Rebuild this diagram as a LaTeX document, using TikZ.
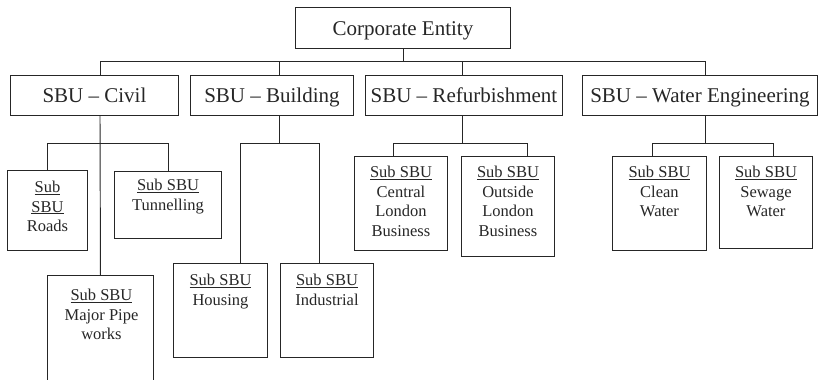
\documentclass[tikz,border=0pt]{standalone}
\usepackage{fontspec}
\setmainfont{Liberation Serif}
\usetikzlibrary{calc}
\definecolor{ink}{HTML}{262626}
\begin{document}
\begin{tikzpicture}[x=1pt,y=-1pt,
  line width=0.95pt, draw=ink,
  lvlbox/.style={draw=ink, line width=0.95pt, anchor=north west, inner sep=0pt,
    text=ink, font=\fontsize{21}{24}\selectfont, text height=16.8pt, text depth=2.7pt},
  subbox/.style={draw=ink, line width=0.95pt, anchor=north west, inner sep=0pt},
  subtxt/.style={anchor=north, inner sep=0pt, align=center, text=ink,
    font=\fontsize{16.5}{19.5}\selectfont},
  link/.style={draw=ink, line width=0.95pt}]
\useasboundingbox (0,0) rectangle (819,380);

% top level and business units
\node[lvlbox, minimum width=215pt, minimum height=41pt] (corp) at (295,7) {Corporate Entity};
\node[lvlbox, minimum width=168pt, minimum height=40pt] (civ) at (10,75) {SBU -- Civil};
\node[lvlbox, minimum width=163pt, minimum height=40pt] (bld) at (190,75) {SBU -- Building};
\node[lvlbox, minimum width=197pt, minimum height=40pt] (ref) at (365,75) {SBU -- Refurbishment};
\node[lvlbox, minimum width=235pt, minimum height=40pt] (wat) at (582,75) {SBU -- Water Engineering};

% sub business units (frames)
\node[subbox, minimum width=80pt, minimum height=80pt] (roads) at (7,170) {};
\node[subbox, minimum width=107pt, minimum height=67pt] (tun) at (114,171) {};
\node[subbox, minimum width=106pt, minimum height=130pt] (pipe) at (47,275) {};
\node[subbox, minimum width=94pt, minimum height=94pt] (hou) at (173,263) {};
\node[subbox, minimum width=93pt, minimum height=94pt] (ind) at (280,263) {};
\node[subbox, minimum width=93pt, minimum height=94pt] (cen) at (354,156) {};
\node[subbox, minimum width=93pt, minimum height=100pt] (out) at (461,156) {};
\node[subbox, minimum width=94pt, minimum height=94pt] (cln) at (612,156) {};
\node[subbox, minimum width=93pt, minimum height=92pt] (sew) at (719,156) {};

% sub business unit labels (offset = top of first line below frame top)
\node[subtxt] (roadsT) at ($(roads.north)+(0,10.7)$) {\underline{Sub}\\\underline{SBU}\\Roads};
\node[subtxt] (tunT) at ($(tun.north)+(0,7.7)$) {\underline{Sub SBU}\\Tunnelling};
\node[subtxt] (pipeT) at ($(pipe.north)+(1,13.7)$) {\underline{Sub SBU}\\Major Pipe\\works};
\node[subtxt] (houT) at ($(hou.north)+(0,10.7)$) {\underline{Sub SBU}\\Housing};
\node[subtxt] (indT) at ($(ind.north)+(0,10.7)$) {\underline{Sub SBU}\\Industrial};
\node[subtxt] (cenT) at ($(cen.north)+(0,9.7)$) {\underline{Sub SBU}\\Central\\London\\Business};
\node[subtxt] (outT) at ($(out.north)+(0,9.7)$) {\underline{Sub SBU}\\Outside\\London\\Business};
\node[subtxt] (clnT) at ($(cln.north)+(0,9.7)$) {\underline{Sub SBU}\\Clean\\Water};
\node[subtxt] (sewT) at ($(sew.north)+(0,9.7)$) {\underline{Sub SBU}\\Sewage\\Water};

% main bus
\coordinate (busL) at (100,61);
\coordinate (busB) at (279,61);
\coordinate (busF) at (462,61);
\coordinate (busR) at (705,61);
\draw[link] (corp.south) -- (corp.south |- busL);
\draw[link] (busL) -- (busR);
\draw[link] (busL) -- (busL |- civ.north);
\draw[link] (busB) -- (busB |- bld.north);
\draw[link] (busF) -- (busF |- ref.north);
\draw[link] (busR) -- (busR |- wat.north);

% civil branches
\coordinate (civJ) at (100,143);
\draw[link] (busL |- civ.south) -- (pipe.north);
\draw[link] (roads.north) -- (roads.north |- civJ) -- (tun.north |- civJ) -- (tun.north);

% building branches
\coordinate (houC) at (240,143);
\coordinate (indC) at (319,143);
\draw[link] (busB |- bld.south) -- (busB |- houC);
\draw[link] (houC |- hou.north) -- (houC) -- (indC) -- (indC |- ind.north);

% refurbishment branches
\coordinate (cenC) at (393,143);
\coordinate (outC) at (527,143);
\draw[link] (busF |- ref.south) -- (busF |- cenC);
\draw[link] (cenC |- cen.north) -- (cenC) -- (outC) -- (outC |- out.north);

% water engineering branches
\coordinate (clnC) at (652,143);
\coordinate (sewC) at (773,143);
\draw[link] (busR |- wat.south) -- (busR |- clnC);
\draw[link] (clnC |- cln.north) -- (clnC) -- (sewC) -- (sewC |- sew.north);
\end{tikzpicture}
\end{document}
